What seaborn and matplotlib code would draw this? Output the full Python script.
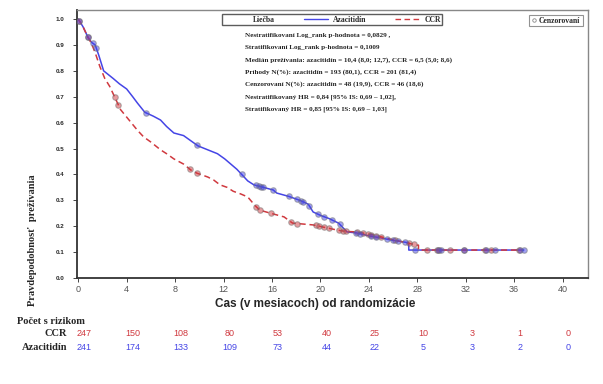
import numpy as np
import pandas as pd
import matplotlib
matplotlib.use("Agg")
import matplotlib.pyplot as plt
import matplotlib.transforms as mtransforms
from matplotlib.lines import Line2D
import seaborn as sns

# Kaplan-Meier curves (months, survival)
aza_t = [0, 0.4, 0.8, 1.1, 1.4, 1.7, 2.1, 2.5, 2.9, 3.4, 4.0, 4.5, 4.9, 5.5, 6.2, 6.8,
         7.3, 7.9, 8.7, 9.3, 9.9, 10.7, 11.5, 12.1, 12.6, 13.1, 13.5, 14.0, 14.5, 15.3,
         16.1, 16.4, 17.4, 18.3, 19.0, 19.4, 20.1, 20.7, 21.5, 22.2, 23.0, 24.1, 25.0,
         25.8, 26.9, 27.3, 27.3, 36.8]
aza_s = [1.0, 0.97, 0.93, 0.91, 0.90, 0.86, 0.80, 0.785, 0.77, 0.75, 0.73, 0.70, 0.675,
         0.64, 0.625, 0.61, 0.585, 0.56, 0.55, 0.53, 0.51, 0.495, 0.48, 0.46, 0.44, 0.42,
         0.40, 0.375, 0.36, 0.35, 0.34, 0.328, 0.315, 0.30, 0.285, 0.255, 0.24, 0.23,
         0.212, 0.178, 0.174, 0.162, 0.155, 0.147, 0.139, 0.136, 0.108, 0.108]
ccr_t = [0, 0.4, 0.8, 1.1, 1.4, 1.8, 2.2, 2.6, 3.0, 3.5, 4.2, 4.9, 5.4, 6.0, 6.8, 7.3,
         7.9, 8.7, 9.3, 9.8, 10.7, 11.2, 11.7, 12.3, 12.8, 13.4, 14.0, 14.6, 15.0, 15.9,
         17.0, 17.7, 19.4, 20.6, 21.4, 22.1, 23.0, 24.4, 25.8, 27.2, 28.0, 28.1, 28.1, 36.4]
ccr_s = [1.0, 0.97, 0.93, 0.905, 0.87, 0.815, 0.77, 0.74, 0.70, 0.65, 0.61, 0.57, 0.545,
         0.525, 0.495, 0.48, 0.46, 0.44, 0.417, 0.405, 0.39, 0.378, 0.36, 0.35, 0.335,
         0.325, 0.313, 0.28, 0.262, 0.25, 0.236, 0.212, 0.205, 0.193, 0.185, 0.18, 0.178,
         0.166, 0.15, 0.135, 0.127, 0.127, 0.108, 0.108]

# censored observations (months)
aza_cens = [0.1, 0.8, 1.2, 1.5, 5.6, 9.8, 13.5, 14.7, 14.9, 15.1, 15.3, 16.1, 17.4, 18.1,
            18.4, 18.6, 19.1, 19.8, 20.3, 21.0, 21.6, 22.9, 23.3, 24.2, 24.6, 25.5, 26.0,
            26.4, 27.0, 27.8, 29.7, 30.0, 31.9, 33.7, 34.4, 36.5, 36.8]
ccr_cens = [0.1, 0.8, 3.0, 3.3, 9.2, 9.8, 14.7, 15.0, 15.9, 17.6, 18.1, 19.6, 19.9, 20.3,
            20.7, 21.5, 21.9, 22.1, 23.0, 23.5, 23.9, 24.2, 24.6, 25.0, 26.2, 27.3, 27.7,
            28.8, 29.6, 29.8, 30.7, 31.9, 33.6, 34.1, 36.4]

# number at risk
risk_times = [0, 4, 8, 12, 16, 20, 24, 28, 32, 36, 40]
risk_ccr = [247, 150, 108, 80, 53, 40, 25, 10, 3, 1, 0]
risk_aza = [241, 174, 133, 109, 73, 44, 22, 5, 3, 2, 0]

stats_lines = [
    "Nestratifikovaní Log_rank p-hodnota = 0,0829 ,",
    "Stratifikovaní Log_rank p-hodnota = 0,1009",
    "Medián prežívania: azacitidín = 10,4 (8,0; 12,7), CCR = 6,5 (5,0; 8,6)",
    "Príhody N(%): azacitidín = 193 (80,1), CCR = 201 (81,4)",
    "Cenzorovaní N(%): azacitidín = 48 (19,9), CCR = 46 (18,6)",
    "Nestratifikovaný HR = 0,84 [95% IS: 0,69 \u2013 1,02],",
    "Stratifikovaný HR = 0,85 [95% IS: 0,69 \u2013 1,03]",
]

BLUE = "#4545e6"
RED = "#d0393f"

sns.set_style("ticks")
plt.rcParams["font.family"] = ["Liberation Sans", "DejaVu Sans"]
SERIF = ["Liberation Serif", "DejaVu Serif"]

fig = plt.figure(figsize=(6.03, 3.84), dpi=100)
ax = fig.add_axes([0.1277, 0.276, 0.8474, 0.698])


def surv_at(times, surv, c):
    return float(np.interp(c, times, surv))


aza = pd.DataFrame({"t": aza_t, "s": aza_s})
ccr = pd.DataFrame({"t": ccr_t, "s": ccr_s})
sns.lineplot(data=aza, x="t", y="s", ax=ax, color=BLUE, lw=1.1, sort=False,
             estimator=None, legend=False)
sns.lineplot(data=ccr, x="t", y="s", ax=ax, color=RED, lw=1.1, sort=False,
             estimator=None, linestyle=(0, (4, 2.5)), legend=False)

aza_c = pd.DataFrame({"t": aza_cens,
                      "s": [surv_at(aza_t[:-2], aza_s[:-2], c) if c < 27.3 else aza_s[-1]
                            for c in aza_cens]})
ccr_c = pd.DataFrame({"t": ccr_cens,
                      "s": [surv_at(ccr_t[:-2], ccr_s[:-2], c) if c < 28.1 else ccr_s[-1]
                            for c in ccr_cens]})
sns.scatterplot(data=ccr_c, x="t", y="s", ax=ax, s=16, color=RED, alpha=0.5,
                edgecolor="#707070", linewidth=0.8, legend=False, zorder=3)
sns.scatterplot(data=aza_c, x="t", y="s", ax=ax, s=16, color=BLUE, alpha=0.5,
                edgecolor="#707070", linewidth=0.8, legend=False, zorder=3)

ax.set_xlim(-0.1, 42.1)
ax.set_ylim(0, 1.035)
ax.set_xticks(risk_times)
ax.set_yticks(np.arange(0, 1.01, 0.1))
ax.set_yticklabels([f"{v:.1f}" for v in np.arange(0, 1.01, 0.1)],
                   fontsize=4.5, fontweight="bold")
ax.tick_params(axis="x", labelsize=6.5, labelcolor="#555555", length=3,
               width=0.7, color="#444444", pad=2)
ax.tick_params(axis="y", length=3, width=0.7, color="#444444", pad=6)
for side in ["left", "bottom"]:
    ax.spines[side].set_color("#333333")
    ax.spines[side].set_linewidth(1.3)
for side in ["top", "right"]:
    ax.spines[side].set_color("#888888")
    ax.spines[side].set_linewidth(1.0)
ax.set_xlabel("")
ax.set_ylabel("")

# legends
h_blank = Line2D([], [], color="none")
h_aza = Line2D([], [], color=BLUE, lw=1)
h_ccr = Line2D([], [], color=RED, lw=1, linestyle=(0, (4, 2.5)))
leg = ax.legend([h_blank, h_aza, h_ccr], ["Liečba", "Azacitidín", "CCR"], ncol=3,
                loc="lower left", bbox_to_anchor=(0.276, 0.929, 0.446, 0.052),
                mode="expand", frameon=True, fancybox=False, borderpad=0.2,
                handlelength=3.2, handletextpad=0.6, columnspacing=0.8,
                prop={"family": SERIF, "weight": "bold", "size": 5.5})
leg.get_frame().set_edgecolor("#333333")
leg.get_frame().set_linewidth(1.0)
ax.add_artist(leg)

h_cens = Line2D([], [], marker="o", linestyle="none", markersize=2.5,
                markerfacecolor="white", markeredgecolor="#888888", markeredgewidth=0.6)
leg2 = ax.legend([h_cens], ["Cenzorovaní"], loc="lower left",
                 bbox_to_anchor=(0.877, 0.925, 0.121, 0.064), mode="expand",
                 frameon=True, fancybox=False, borderpad=0.2, handlelength=0.8,
                 handletextpad=0.3,
                 prop={"family": SERIF, "weight": "bold", "size": 5.5})
leg2.get_frame().set_edgecolor("#777777")
leg2.get_frame().set_linewidth(0.8)

# statistics text block
for i, line in enumerate(stats_lines):
    fig.text(245 / 603, 1 - (35 + i * 12.4) / 384, line, family=SERIF,
             fontweight="bold", fontsize=5.1, va="center", ha="left")

# axis titles
fig.text(33 / 603, 1 - 240 / 384, "Pravdepodobnosť  prežívania", family=SERIF,
         fontweight="bold", fontsize=7.5, rotation=90, va="center", ha="center")
fig.text(315 / 603, 1 - 304 / 384, "Cas (v mesiacoch) od randomizácie",
         family=["Liberation Sans Narrow", "Liberation Sans"], fontweight="bold",
         fontsize=8.5, va="center", ha="center")

# number at risk table
fig.text(17 / 603, 1 - 321 / 384, "Počet s rizikom", family=SERIF,
         fontweight="bold", fontsize=7.5, va="center", ha="left")
fig.text(67 / 603, 1 - 334 / 384, "CCR", family=SERIF,
         fontweight="bold", fontsize=7.5, va="center", ha="right")
fig.text(67 / 603, 1 - 348 / 384, "Azacitidín", family=SERIF,
         fontweight="bold", fontsize=7.5, va="center", ha="right")
trans = mtransforms.blended_transform_factory(ax.transData, fig.transFigure)
for t, n_ccr, n_aza in zip(risk_times, risk_ccr, risk_aza):
    ax.text(t + 0.5, 1 - 334 / 384, str(n_ccr), transform=trans, color=RED,
            fontsize=6.5, ha="center", va="center", clip_on=False)
    ax.text(t + 0.5, 1 - 348 / 384, str(n_aza), transform=trans, color=BLUE,
            fontsize=6.5, ha="center", va="center", clip_on=False)

fig.savefig("out.png", dpi=100)
